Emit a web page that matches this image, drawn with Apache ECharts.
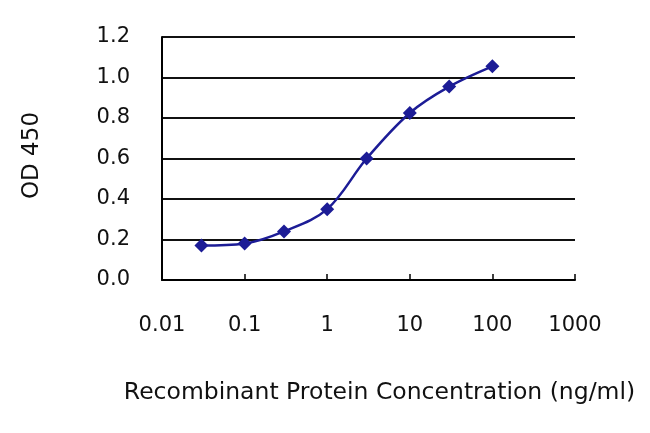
<!DOCTYPE html>
<html>
<head>
<meta charset="utf-8">
<script src="https://cdn.jsdelivr.net/npm/echarts@6/dist/echarts.min.js"></script>
<style>html,body{margin:0;padding:0;background:#fff;}#c{width:650px;height:433px;}</style>
</head>
<body>
<div id="c"></div>
<script>
var concentrations = [0.03, 0.1, 0.3, 1, 3, 10, 30, 100];
var odValues = [0.17, 0.18, 0.24, 0.35, 0.6, 0.825, 0.955, 1.055];
var xTickLabels = ['0.01', '0.1', '1', '10', '100', '1000'];
var yTickLabels = ['0.0', '0.2', '0.4', '0.6', '0.8', '1.0', '1.2'];
var xTitle = 'Recombinant Protein Concentration (ng/ml)';
var yTitle = 'OD 450';

var chart = echarts.init(document.getElementById('c'), null, {renderer: 'canvas'});
var font = 'DejaVu Sans';
var txt = '#111';
chart.setOption({
  animation: false,
  backgroundColor: '#fff',
  grid: {left: 162, right: 75, top: 37, bottom: 153},
  xAxis: {
    type: 'log', logBase: 10, min: 0.01, max: 1000,
    name: xTitle, nameLocation: 'middle', nameGap: 101,
    nameTextStyle: {fontFamily: font, fontSize: 23.5, color: txt, padding: [0, 0, 0, 22]},
    axisLine: {show: true, lineStyle: {color: '#000', width: 2}},
    axisTick: {show: true, inside: true, length: 6, lineStyle: {color: '#000', width: 1.5}},
    axisLabel: {
      fontFamily: font, fontSize: 21, color: txt, margin: 35,
      formatter: function (v) {
        var i = Math.round(Math.log10(v)) + 2;
        return xTickLabels[i] !== undefined ? xTickLabels[i] : '';
      }
    },
    splitLine: {show: false},
    minorTick: {show: false}
  },
  yAxis: {
    type: 'value', min: 0, max: 1.2, interval: 0.2,
    name: yTitle, nameLocation: 'middle', nameGap: 118,
    nameTextStyle: {fontFamily: font, fontSize: 23, color: txt, padding: [0, 0, 0, 6]},
    axisLine: {show: true, lineStyle: {color: '#000', width: 2}},
    axisTick: {show: false},
    axisLabel: {
      fontFamily: font, fontSize: 21, color: txt, margin: 32,
      formatter: function (v) { return yTickLabels[Math.round(v / 0.2)]; }
    },
    splitLine: {show: true, lineStyle: {color: '#111', width: 2}}
  },
  series: [{
    type: 'line',
    data: concentrations.map(function (c, i) { return [c, odValues[i]]; }),
    smooth: 0.35,
    symbol: 'diamond',
    symbolSize: 14,
    showSymbol: true,
    lineStyle: {color: '#1c1c96', width: 2.5},
    itemStyle: {color: '#1c1c96'}
  }]
});
</script>
</body>
</html>
